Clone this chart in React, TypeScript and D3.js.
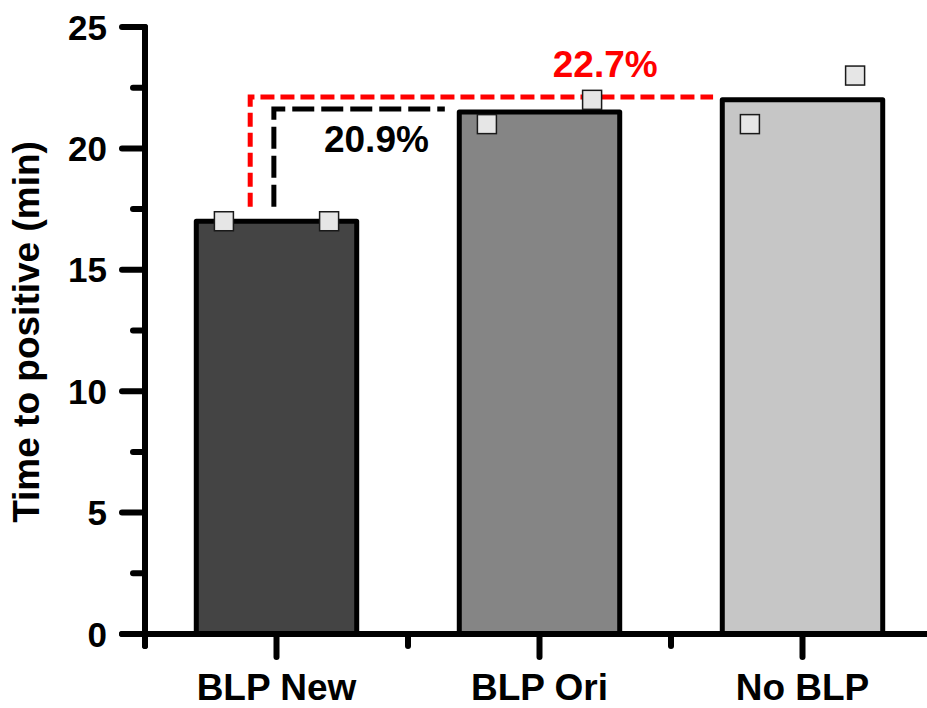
import React from "react";
import * as d3 from "d3";

// data
const categories = ["BLP New", "BLP Ori", "No BLP"];
const barValues = [17, 21.5, 22];
const barColors = ["#444444", "#858585", "#c6c6c6"];
// two replicate points per group
const pointValues = [
  [17, 17],
  [21, 22],
  [21, 23],
];
const yTicks = [0, 5, 10, 15, 20, 25];
const yMinorTicks = [2.5, 7.5, 12.5, 17.5, 22.5];

// reduction annotations (levels in minutes)
const annoLabels = ["20.9%", "22.7%"];
const annoColors = ["#000000", "#ff0000"];
const annoFrom = ["BLP New", "BLP New"];
const annoTo = ["BLP Ori", "No BLP"];
const annoTop = [21.62, 22.12];
const annoBottom = [17.6, 17.6];

const width = 927;
const height = 708;
const font = "'Liberation Sans', Arial, sans-serif";

export default function App() {
  const y = d3.scaleLinear().domain([0, 25]).range([634, 27]);
  const x = d3.scalePoint().domain(categories).range([145, 934]).padding(0.5);
  const step = x.step();
  const barW = step * 0.61;
  const x0 = 145;
  const y0 = y(0);

  const minorX = d3.range(categories.length + 1).map((i) => x0 + i * step);

  // per annotation: vertical x offset, horizontal end offset, label placement
  const vOff = [-0.01, -0.1];
  const hEnd = [-0.36, -0.34];
  const labelPos = [
    { cx: x("BLP New")! + 0.38 * step, cy: 152 },
    { cx: x("BLP Ori")! + 0.25 * step, cy: 77 },
  ];
  const dashes = ["22 7", "14 6"];

  return (
    <svg width={width} height={height} style={{ display: "block" }} fontFamily={font} fontWeight="bold">
      <style>{`body{margin:0}`}</style>
      <rect width={width} height={height} fill="#fff" />

      {/* annotations */}
      {annoLabels.map((lab, i) => {
        const vx = x(annoFrom[i])! + vOff[i] * step;
        const hx = x(annoTo[i])! + hEnd[i] * step;
        const yt = y(annoTop[i]);
        const path = d3.path();
        path.moveTo(vx, y(annoBottom[i]));
        path.lineTo(vx, yt);
        path.lineTo(hx, yt);
        return (
          <g key={lab}>
            <path d={path.toString()} fill="none" stroke={annoColors[i]} strokeWidth={5} strokeDasharray={dashes[i]} />
            <text x={labelPos[i].cx} y={labelPos[i].cy} textAnchor="middle" fontSize={37} fill={annoColors[i]}>
              {lab}
            </text>
          </g>
        );
      })}

      {/* bars */}
      {categories.map((c, i) => (
        <rect
          key={c}
          x={x(c)! - barW / 2}
          y={y(barValues[i])}
          width={barW}
          height={y0 - y(barValues[i])}
          fill={barColors[i]}
          stroke="#000"
          strokeWidth={5}
          strokeLinejoin="round"
        />
      ))}

      {/* points */}
      {categories.map((c, i) =>
        pointValues[i].map((v, j) => {
          const px = x(c)! + (j === 0 ? -0.2 : 0.2) * step;
          const s = 19;
          return (
            <rect
              key={c + j}
              x={px - s / 2}
              y={y(v) - s / 2}
              width={s}
              height={s}
              fill="#e6e6e6"
              stroke="#1a1a1a"
              strokeWidth={1.5}
            />
          );
        })
      )}

      {/* axes */}
      <g stroke="#000" strokeWidth={6} strokeLinecap="round">
        <line x1={x0} x2={x0} y1={y(25)} y2={y0 + 12} />
        <line x1={x0 - 23} x2={width + 10} y1={y0} y2={y0} />
        {yTicks.map((t) => (
          <line key={t} x1={x0 - 23} x2={x0} y1={y(t)} y2={y(t)} />
        ))}
        {yMinorTicks.map((t) => (
          <line key={t} x1={x0 - 12} x2={x0} y1={y(t)} y2={y(t)} />
        ))}
        {categories.map((c) => (
          <line key={c} x1={x(c)} x2={x(c)} y1={y0} y2={y0 + 23} />
        ))}
        {minorX.map((m) => (
          <line key={m} x1={m} x2={m} y1={y0} y2={y0 + 12} />
        ))}
      </g>

      {yTicks.map((t) => (
        <text key={t} x={107} y={y(t)} dy="0.36em" textAnchor="end" fontSize={35}>
          {t}
        </text>
      ))}
      {categories.map((c) => (
        <text key={c} x={x(c)} y={700} textAnchor="middle" fontSize={37}>
          {c}
        </text>
      ))}
      <text transform="translate(39,332) rotate(-90)" textAnchor="middle" fontSize={37}>
        Time to positive (min)
      </text>
    </svg>
  );
}
